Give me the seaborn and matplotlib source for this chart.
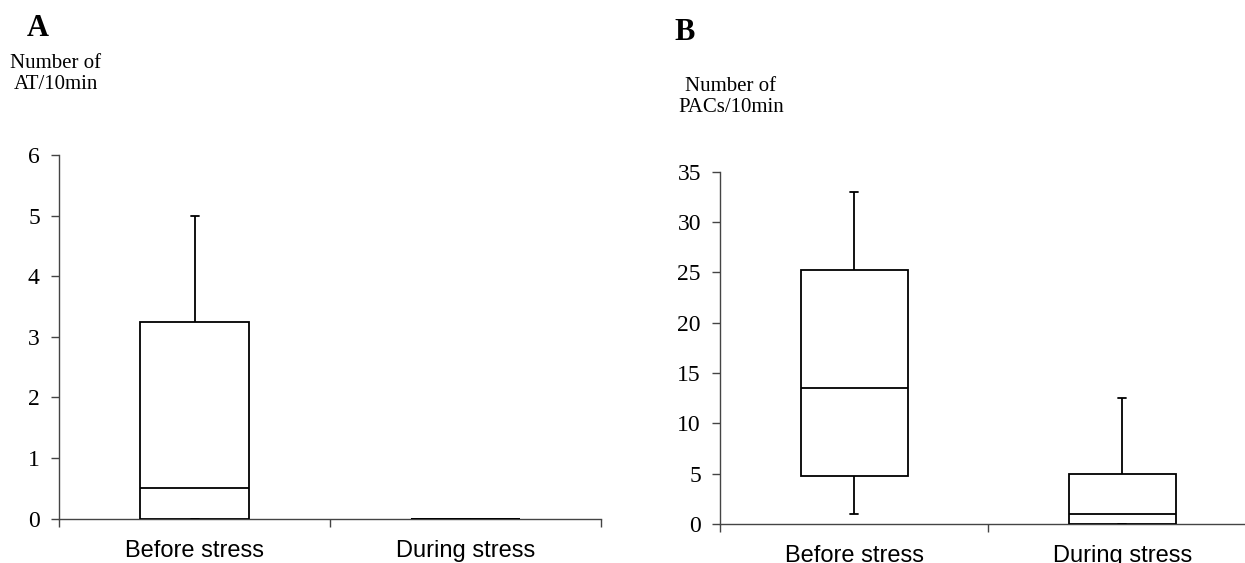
import pandas as pd
import matplotlib
matplotlib.use('Agg')
import matplotlib.pyplot as plt
import seaborn as sns

# five-number summaries: min, Q1, median, Q3, max
phases = ['Before stress', 'During stress']
at_before = [0, 0, 0.5, 3.25, 5]
at_during = [0, 0, 0, 0, 0]
pac_before = [1, 4.75, 13.5, 25.25, 33]
pac_during = [0, 0, 1, 5, 12.5]

at_ticks = [0, 1, 2, 3, 4, 5, 6]
pac_ticks = [0, 5, 10, 15, 20, 25, 30, 35]

sns.set_style("white")
plt.rcParams['font.family'] = ['Liberation Serif', 'DejaVu Serif']
plt.rcParams['text.color'] = 'black'
plt.rcParams['xtick.color'] = 'black'
plt.rcParams['ytick.color'] = 'black'


def long_df(before, during):
    return pd.DataFrame({
        'phase': [phases[0]] * len(before) + [phases[1]] * len(during),
        'count': list(before) + list(during),
    })


def draw_panel(ax, df, yticks):
    # 5 values -> quartiles fall exactly on the summary values
    sns.boxplot(data=df, x='phase', y='count', ax=ax, order=phases,
                color='white', linecolor='black', linewidth=1.3,
                width=0.4, whis=(0, 100), fliersize=0, capwidths=0.03)
    ax.set_xlim(-0.5, 1.5)
    ax.set_ylim(yticks[0], yticks[-1])
    ax.set_yticks(yticks)
    ax.set_xticks([-0.5, 0.5, 1.5], minor=True)
    ax.set_xticks([0, 1])
    ax.set_xticklabels(phases, fontfamily='Liberation Sans', fontsize=17)
    ax.tick_params(axis='x', which='major', length=0, pad=15)
    ax.tick_params(axis='x', which='minor', length=6, width=1,
                   color='#444444', direction='out', bottom=True)
    ax.tick_params(axis='y', length=6, width=1, color='#444444',
                   direction='out', left=True, labelsize=17, pad=8)
    ax.set_xlabel('')
    ax.set_ylabel('')
    for s in ['top', 'right']:
        ax.spines[s].set_visible(False)
    for s in ['left', 'bottom']:
        ax.spines[s].set_color('#444444')
        ax.spines[s].set_linewidth(1)
        ax.spines[s].set_zorder(0)


fig = plt.figure(figsize=(12.45, 5.63), dpi=100)
ax1 = fig.add_axes([0.0476, 0.0787, 0.435, 0.646])
ax2 = fig.add_axes([0.5786, 0.0693, 0.4305, 0.6257])

draw_panel(ax1, long_df(at_before, at_during), at_ticks)
draw_panel(ax2, long_df(pac_before, pac_during), pac_ticks)

fig.text(38 / 1245, 1 - 28 / 563, 'A', fontsize=22, fontweight='bold',
         ha='center', va='center')
fig.text(685 / 1245, 1 - 33 / 563, 'B', fontsize=22, fontweight='bold',
         ha='center', va='center')
fig.text(56 / 1245, 1 - 74 / 563, 'Number of\nAT/10min', fontsize=15,
         ha='center', va='center', linespacing=1.1)
fig.text(731 / 1245, 1 - 97 / 563, 'Number of\nPACs/10min', fontsize=15,
         ha='center', va='center', linespacing=1.1)

fig.savefig('out.png', dpi=100)
